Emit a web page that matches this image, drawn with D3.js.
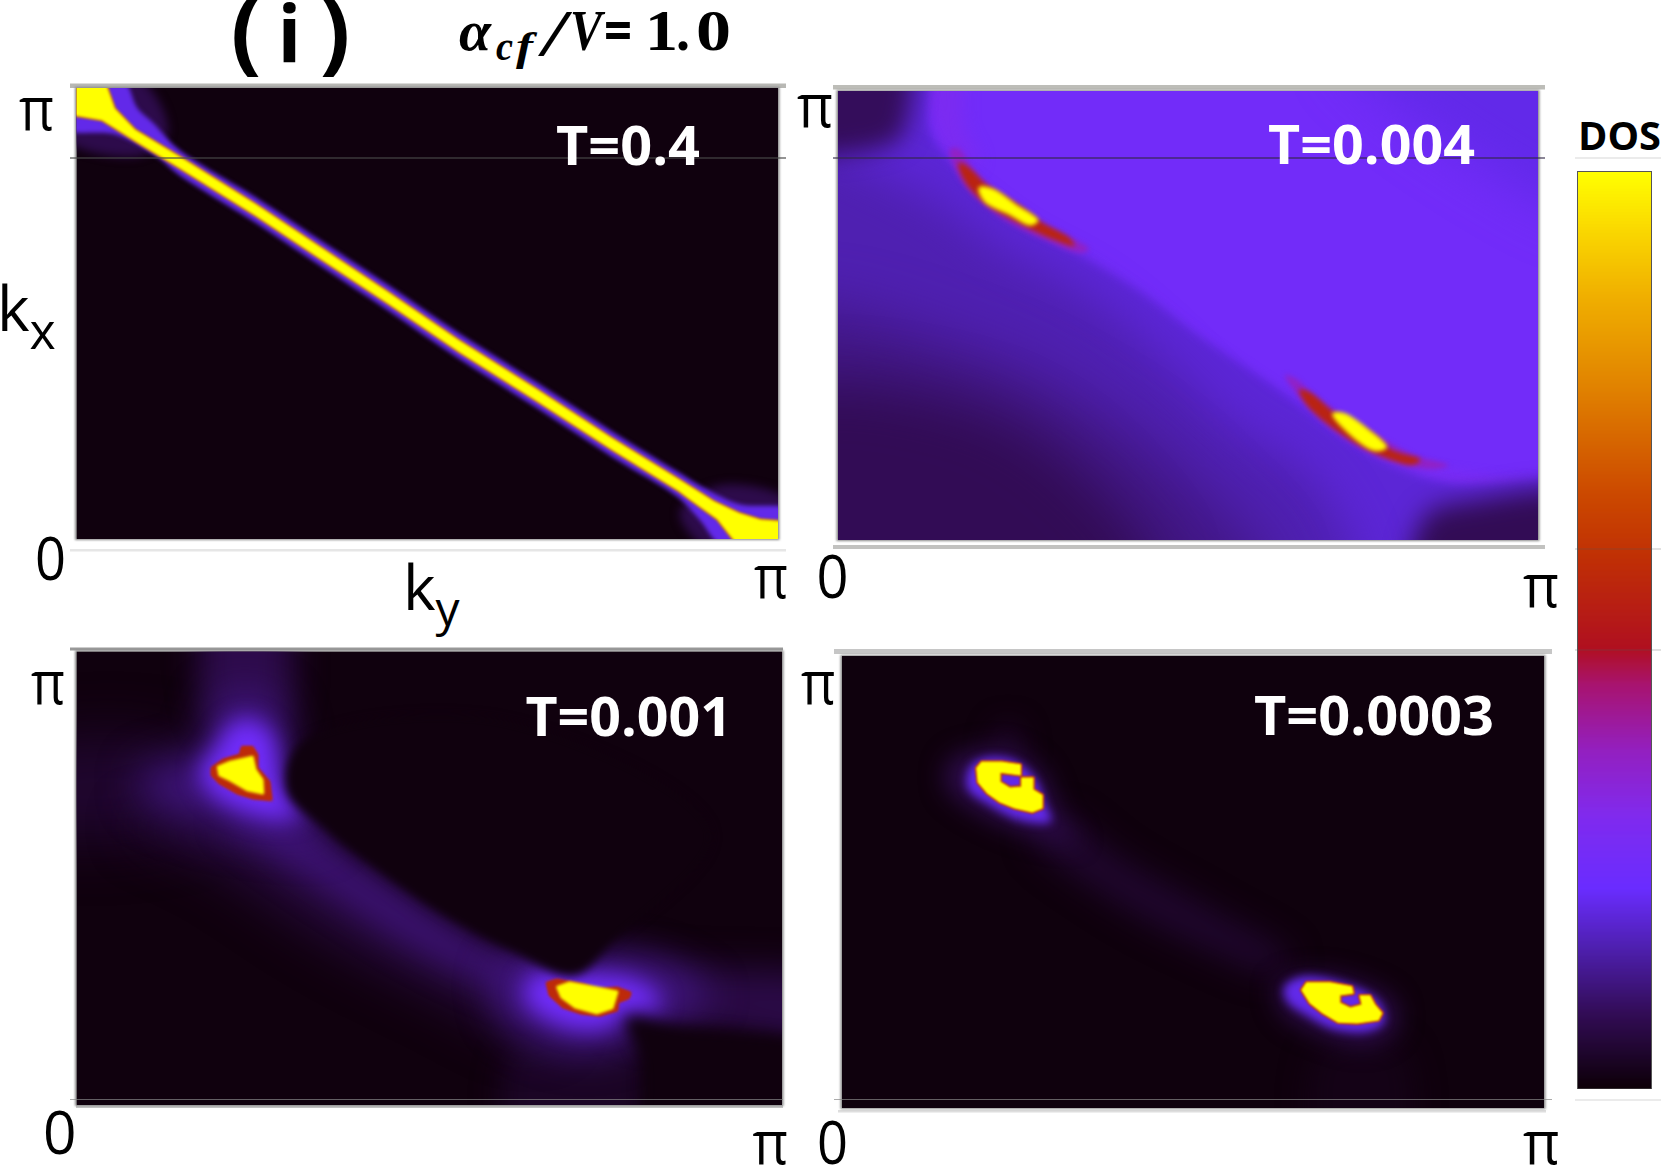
<!DOCTYPE html>
<html>
<head>
<meta charset="utf-8">
<style>
  html, body { margin: 0; padding: 0; background: #fff; }
  svg { display: block; }
</style>
<script src="https://cdn.jsdelivr.net/npm/d3@7"></script>
</head>
<body>
<div id="chart"></div>
<script>
// DOS colour map: value stops and the colours they take
const dosStops = [0, 0.08, 0.154, 0.218, 0.296, 0.368, 0.44, 0.48, 0.58, 0.65, 0.76, 0.866, 0.937, 1];
const dosColors = ["#0d0008", "#320c55", "#4f20b0", "#6a2dff", "#802bee", "#9320c0", "#a81470", "#b01020",
                   "#c03005", "#cc4a00", "#e08000", "#f0b000", "#fad800", "#ffff00"];

// Panel titles
const temperatures = ["T=0.4", "T=0.004", "T=0.001", "T=0.0003"];

// Iso-DOS outlines, as [ky/pi, kx/pi] pairs

// T = 0.4: the nearly straight Fermi ridge with its two corner pockets
const t04Ridge = [[-.02,1.02],[.04,1.02],[.055,.955],[.084,.908],[.145,.851],[.255,.744],[.342,.654],[.444,.549],[.545,.442],[.655,.334],[.764,.224],[.858,.134],[.909,.084],[.945,.058],[.975,.044],[1.02,.038],[1.02,-.02],[.945,-.02],[.913,.043],[.873,.088],[.858,.106],[.764,.196],[.655,.306],[.545,.414],[.444,.521],[.342,.626],[.255,.716],[.145,.823],[.087,.878],[.036,.928],[-.02,.943]];
const t04Halo = [[-.02,1.02],[.065,1.02],[.087,.955],[.109,.923],[.145,.865],[.255,.758],[.342,.668],[.444,.563],[.545,.456],[.655,.348],[.764,.238],[.858,.148],[.895,.113],[.945,.077],[1.02,.063],[1.02,-.02],[.924,-.02],[.887,.045],[.858,.092],[.764,.182],[.655,.292],[.545,.4],[.444,.507],[.342,.612],[.255,.702],[.145,.809],[.116,.846],[.058,.896],[-.02,.912]];
const t04GlowTop = [[-.02,1.02],[.09,1.02],[.13,.9],[.09,.85],[-.02,.89]];
const t04GlowBottom = [[.86,.06],[.92,.12],[1.02,.08],[1.02,-.02],[.9,-.02]];

// T = 0.004: violet plateau, darker interior and two hot arcs
const t004Inner = [[-.1,1.1],[.118,1.1],[.13,.916],[.158,.848],[.194,.789],[.27,.699],[.35,.631],[.431,.554],[.511,.46],[.583,.384],[.639,.324],[.719,.23],[.8,.162],[.88,.124],[1.1,.115],[1.1,-.1],[-.1,-.1]];
const t004Mid = [[-.1,.865],[.118,.772],[.238,.644],[.358,.541],[.463,.405],[.559,.26],[.679,.132],[.735,-.1],[-.1,-.1]];
const t004Low = [[-.1,.5],[.2,.42],[.38,.28],[.5,.14],[.62,-.1],[-.1,-.1]];
const t004Lowest = [[-.1,.32],[.2,.3],[.36,.14],[.46,-.1],[-.1,-.1]];
const t004CornerTop = [[-.1,1.1],[.095,1.1],[.098,.933],[.082,.887],[-.1,.88]];
const t004CornerBottom = [[.824,-.1],[1.1,-.1],[1.1,.095],[.9,.085],[.84,.055]];
const t004RimTop = [[.12,1.1],[.17,1.1],[.18,.92],[.2,.84],[.16,.84],[.135,.92]];
const t004RimBottom = [[.68,.27],[.8,.18],[.95,.14],[1,.13],[.9,.12],[.78,.16]];
const t004Shade = [[.72,1.1],[1.1,1.1],[1.1,.72],[.9,.85]];
const t004GlowA = [[.16,.87],[.172,.872],[.194,.823],[.238,.763],[.294,.703],[.358,.648],[.346,.639],[.294,.669],[.238,.712],[.19,.772],[.168,.823]];
const t004RedA = [[.172,.84],[.186,.831],[.214,.789],[.262,.742],[.29,.708],[.33,.673],[.338,.655],[.302,.673],[.262,.703],[.214,.746],[.182,.797]];
const t004HotA = [[.202,.784],[.222,.78],[.254,.746],[.285,.712],[.274,.702],[.246,.725],[.21,.754]];
const t004GlowB = [[.639,.367],[.655,.358],[.687,.311],[.743,.26],[.792,.213],[.824,.188],[.872,.166],[.848,.158],[.8,.171],[.751,.2],[.703,.251],[.663,.311]];
const t004RedB = [[.659,.335],[.675,.328],[.711,.281],[.759,.239],[.792,.2],[.832,.179],[.82,.168],[.783,.183],[.743,.213],[.695,.264],[.667,.307]];
const t004HotB = [[.707,.281],[.723,.281],[.759,.243],[.783,.207],[.767,.2],[.739,.226]];

// T = 0.001: two pockets joined by a faint crescent
const t001PlumeUp = [[.188,1.1],[.289,1.1],[.289,.838],[.195,.838]];
const t001PlumeLeft = [[-.1,.761],[.145,.784],[.181,.637],[-.1,.614]];
const t001PlumeRight = [[.76,.3],[.88,.3],[1.1,.26],[1.1,.14],[.88,.17],[.78,.18]];
const t001PlumeDown = [[.62,.13],[.8,.13],[.78,-.1],[.62,-.1]];
const t001WideBand = [[.2,.64],[.33,.6],[.5,.43],[.68,.27],[.66,.15],[.5,.25],[.35,.37],[.2,.52],[.08,.62]];
const t001Band = [[.282,.66],[.362,.575],[.441,.49],[.528,.398],[.615,.32],[.687,.282],[.658,.228],[.579,.267],[.47,.351],[.362,.459],[.253,.575],[.21,.629]];
const t001OuterA = [[.094,.737],[.181,.784],[.195,.892],[.282,.892],[.311,.722],[.355,.591],[.297,.591],[.181,.622],[.094,.68]];
const t001OuterB = [[.6,.31],[.72,.34],[.84,.31],[.9,.24],[.82,.17],[.76,.12],[.68,.12],[.6,.2]];
const t001HaloA = [[.174,.737],[.195,.784],[.217,.838],[.246,.853],[.279,.815],[.286,.745],[.293,.691],[.318,.637],[.282,.629],[.224,.653],[.188,.691]];
const t001HaloB = [[.637,.274],[.673,.297],[.724,.29],[.781,.282],[.825,.243],[.825,.212],[.774,.205],[.76,.174],[.709,.166],[.658,.197],[.637,.228]];
const t001GapA = [[.298,.695],[.355,.604],[.427,.519],[.514,.426],[.615,.341],[.705,.285],[.76,.36],[.9,.6],[.6,.85],[.32,.8]];
const t001GapB = [[.78,.19],[.85,.175],[1.1,.1],[1.1,-.1],[.82,-.1],[.8,.1]];
const t001RedA = [[.192,.743],[.208,.761],[.232,.772],[.235,.789],[.249,.789],[.256,.772],[.256,.743],[.273,.712],[.276,.673],[.25,.677],[.228,.688],[.203,.71],[.192,.728]];
const t001HotA = [[.201,.745],[.218,.756],[.249,.767],[.253,.739],[.263,.717],[.264,.688],[.242,.695],[.218,.717],[.203,.728]];
const t001RedB = [[.667,.269],[.681,.276],[.718,.265],[.738,.254],[.766,.258],[.785,.247],[.782,.236],[.767,.227],[.766,.209],[.742,.198],[.714,.203],[.69,.216],[.671,.243]];
const t001HotB = [[.682,.26],[.699,.269],[.738,.258],[.766,.249],[.759,.214],[.738,.203],[.707,.216],[.688,.238]];

// T = 0.0003: two C-shaped pockets
const t0003Plume = [[.223,.848],[.251,.848],[.258,.77],[.211,.77]];
const t0003Tail = [[.68,.13],[.8,.13],[.8,-.1],[.68,-.1]];
const t0003Band = [[.306,.646],[.401,.546],[.527,.437],[.638,.329],[.622,.298],[.496,.368],[.369,.476],[.274,.6]];
const t0003OuterA = [[.156,.77],[.227,.793],[.282,.747],[.314,.631],[.338,.592],[.267,.607],[.187,.661],[.148,.715]];
const t0003OuterB = [[.62,.27],[.67,.295],[.73,.28],[.785,.235],[.79,.18],[.75,.14],[.69,.16],[.63,.21]];
const t0003HaloA = [[.183,.755],[.203,.774],[.243,.77],[.274,.731],[.29,.67],[.298,.635],[.258,.635],[.211,.67],[.179,.708]];
const t0003HaloB = [[.63,.267],[.654,.29],[.717,.275],[.764,.236],[.772,.19],[.749,.17],[.701,.174],[.662,.205],[.634,.236]];
const t0003HotA = [[.192,.752],[.199,.765],[.229,.765],[.254,.759],[.254,.737],[.225,.743],[.225,.721],[.239,.708],[.256,.71],[.256,.73],[.272,.73],[.272,.704],[.285,.692],[.285,.664],[.271,.655],[.246,.664],[.225,.677],[.207,.697],[.194,.721]];
const t0003HotB = [[.655,.261],[.662,.277],[.695,.277],[.726,.268],[.728,.254],[.709,.25],[.709,.232],[.724,.221],[.741,.228],[.738,.248],[.752,.248],[.759,.228],[.769,.21],[.764,.195],[.734,.188],[.707,.19],[.685,.21],[.667,.232]];

// ---------------------------------------------------------------------------

const W = 1661, H = 1169;
const svg = d3.select("#chart").append("svg").attr("width", W).attr("height", H)
  .attr("viewBox", `0 0 ${W} ${H}`);
const defs = svg.append("defs");

const dos = d3.scaleLinear().domain(dosStops).range(dosColors).interpolate(d3.interpolateRgb).clamp(true);

function blurId(s) {
  const id = "soft" + String(s).replace(".", "_");
  if (defs.select("#" + id).empty()) {
    defs.append("filter").attr("id", id).attr("filterUnits", "userSpaceOnUse")
      .attr("x", 0).attr("y", 0).attr("width", W).attr("height", H)
      .attr("color-interpolation-filters", "sRGB")
      .append("feGaussianBlur").attr("stdDeviation", s);
  }
  return `url(#${id})`;
}

// Each layer: outline, DOS level, softness in px, red fringe in px, outward growth in px
const panels = [
  { name: temperatures[0], box: [76.5, 778, 88, 539], base: 0.006, label: [556, 700, 164.5], layers: [
    [t04GlowTop, 0.07, 5], [t04GlowBottom, 0.07, 5], [t04Halo, 0.2, 2], [t04Ridge, 1, 1.6, 0.3]] },
  { name: temperatures[1], box: [838, 1538, 91, 540], base: 0.245, label: [1268, 1475, 164], layers: [
    [t004Shade, 0.2, 25], [t004RimTop, 0.28, 8], [t004RimBottom, 0.27, 5],
    [t004Inner, 0.185, 5], [t004Mid, 0.155, 22], [t004Low, 0.12, 28], [t004Lowest, 0.08, 28],
    [t004CornerTop, 0.085, 12], [t004CornerBottom, 0.08, 13],
    [t004GlowA, 0.36, 2.5], [t004GlowB, 0.36, 2.5], [t004RedA, 0.54, 2.4], [t004RedB, 0.54, 2.4],
    [t004HotA, 1, 2, 0, 0.8], [t004HotB, 1, 2, 0, 0.8]] },
  { name: temperatures[2], box: [76.5, 782, 651.5, 1105], base: 0.006, label: [525.5, 732, 735.5], layers: [
    [t001PlumeDown, 0.03, 14], [t001PlumeLeft, 0.04, 28], [t001PlumeUp, 0.07, 16], [t001PlumeRight, 0.065, 18],
    [t001WideBand, 0.05, 24], [t001Band, 0.1, 15], [t001OuterA, 0.11, 20], [t001OuterB, 0.11, 18],
    [t001HaloA, 0.24, 11], [t001HaloB, 0.24, 11], [t001GapA, 0.006, 5], [t001GapB, 0.006, 7],
    [t001RedA, 0.56, 1.8, 1.2], [t001RedB, 0.56, 1.8, 1.2], [t001HotA, 1, 1.6, 0, 1.5], [t001HotB, 1, 1.6, 0, 1.5]] },
  { name: temperatures[3], box: [842, 1544, 656, 1108], base: 0.005, label: [1254, 1494, 735], layers: [
    [t0003Tail, 0.015, 14], [t0003Plume, 0.025, 12], [t0003Band, 0.04, 16],
    [t0003OuterA, 0.07, 12], [t0003OuterB, 0.07, 12], [t0003HaloA, 0.2, 5], [t0003HaloB, 0.2, 5],
    [t0003HotA, 1, 1.3, 1.4, 0.6], [t0003HotB, 1, 1.3, 1.4, 0.6]] }
];

// Soft grey frame strips from the figure assembly
const strips = [
  [70, 786, 83.5, 4.5, "#b8b8b4"], [70, 786, 549, 2.5, "#e6e6e6"],
  [833, 1545, 85, 4.5, "#bdbdb8"], [833, 1545, 545, 4, "#c2c2c0"],
  [70, 783, 647.5, 3, "#999999"], [76, 783, 1105, 3, "#c8c8c8"],
  [834, 1552, 649, 5, "#c6c6c6"], [838, 1546, 1110, 2.5, "#dedede"]
];
svg.append("g").selectAll("rect").data(strips).join("rect")
  .attr("x", d => d[0]).attr("width", d => d[1] - d[0])
  .attr("y", d => d[2]).attr("height", d => d[3]).attr("fill", d => d[4])
  .attr("filter", blurId(0.6));

panels.forEach((p, i) => {
  const [x0, x1, y0, y1] = p.box;
  const x = d3.scaleLinear().domain([0, 1]).range([x0, x1]);
  const y = d3.scaleLinear().domain([0, 1]).range([y1, y0]);

  svg.append("rect").attr("x", x0 - 1.5).attr("y", y0 - 1).attr("width", x1 - x0 + 3).attr("height", y1 - y0 + 2)
    .attr("fill", "#888").attr("filter", blurId(1.2));

  const clipId = "panel" + i;
  defs.append("clipPath").attr("id", clipId).append("rect")
    .attr("x", x0).attr("y", y0).attr("width", x1 - x0).attr("height", y1 - y0);

  const g = svg.append("g").attr("clip-path", `url(#${clipId})`);
  g.append("rect").attr("x", x0).attr("y", y0).attr("width", x1 - x0).attr("height", y1 - y0)
    .attr("fill", dos(p.base));

  const straight = d3.line().x(d => x(d[0])).y(d => y(d[1])).curve(d3.curveLinearClosed);
  const curved = d3.line().x(d => x(d[0])).y(d => y(d[1])).curve(d3.curveCatmullRomClosed.alpha(0.5));

  p.layers.forEach(([outline, level, soft, fringe, grow]) => {
    const shape = soft >= 2 ? curved : straight;
    if (fringe) {
      g.append("path").attr("d", shape(outline)).attr("fill", dos(0.56))
        .attr("stroke", dos(0.56)).attr("stroke-width", (fringe + (grow || 0)) * 2).attr("stroke-linejoin", "round")
        .attr("filter", blurId(soft));
    }
    const mark = g.append("path").attr("d", shape(outline)).attr("fill", dos(level)).attr("filter", blurId(soft));
    if (grow) mark.attr("stroke", dos(level)).attr("stroke-width", grow * 2).attr("stroke-linejoin", "round");
  });
});

// Rules that run across the panels and out to the colour bar
const rules = [
  [70, 786, 158, "rgba(72,72,72,0.78)", 1.5], [833, 1545, 158, "rgba(50,40,70,0.75)", 1.5],
  [70, 783, 1099.5, "rgba(135,135,135,0.7)", 1], [834, 1552, 1099.5, "rgba(135,135,135,0.7)", 1],
  [1575, 1661, 158, "rgba(120,120,120,0.3)", 1], [1575, 1661, 549, "rgba(90,90,90,0.35)", 1],
  [1575, 1661, 650, "rgba(90,90,90,0.35)", 1], [1575, 1661, 1100, "rgba(120,120,120,0.3)", 1]
];

// Colour bar, one row per DOS step
const barY = d3.scaleLinear().domain([0, 1]).range([1088, 172]);
const barX = [1578, 1651];
const barRows = d3.range(0, 1, 1 / 916);
const bar = svg.append("g");
bar.append("rect").attr("x", barX[0] - 1).attr("y", barY(1) - 1).attr("width", barX[1] - barX[0] + 2)
  .attr("height", barY(0) - barY(1) + 2).attr("fill", "#555").attr("filter", blurId(0.6));
bar.selectAll(".row").data(barRows).join("rect").attr("class", "row")
  .attr("x", barX[0]).attr("width", barX[1] - barX[0])
  .attr("y", d => barY(d) - 1).attr("height", 1.5).attr("fill", d => dos(d));

svg.append("g").selectAll("line").data(rules).join("line")
  .attr("x1", d => d[0]).attr("x2", d => d[1]).attr("y1", d => d[2]).attr("y2", d => d[2])
  .attr("stroke", d => d[3]).attr("stroke-width", d => d[4]);

// Text, fitted to its horizontal extent
const sans = "'Open Sans', sans-serif";
const serif = "'Liberation Serif', serif";
function put(str, x0, x1, base, size, opts = {}) {
  return svg.append("text").text(str).attr("x", x0).attr("y", base)
    .attr("textLength", x1 - x0).attr("lengthAdjust", "spacingAndGlyphs")
    .attr("font-family", opts.family || sans).attr("font-size", size)
    .attr("font-weight", opts.weight || "normal").attr("font-style", opts.style || "normal")
    .attr("fill", opts.fill || "#000");
}
function centred(str, cx, base, size, weight) {
  return svg.append("text").text(str).attr("x", cx).attr("y", base).attr("text-anchor", "middle")
    .attr("font-family", sans).attr("font-size", size).attr("font-weight", weight).attr("fill", "#000");
}
function subscripted(main, sub, x0, base, size, subSize, dy) {
  const t = svg.append("text").attr("x", x0).attr("y", base)
    .attr("font-family", sans).attr("font-size", size).attr("fill", "#000");
  t.append("tspan").text(main);
  t.append("tspan").text(sub).attr("font-size", subSize).attr("dy", dy);
}

panels.forEach(p => {
  const [a, b, base] = p.label;
  put(p.name, a, b, base, 53, { weight: "bold", fill: "#fff" });
});

// Axis end labels
const piLabels = [[19, 54, 130], [754, 788, 598], [797, 833, 127], [1523, 1559, 607],
                  [31, 65, 704], [752.5, 788, 1164], [801, 835.5, 704], [1523, 1559.5, 1164]];
const zeroLabels = [[35, 66, 580], [816.5, 848.5, 598], [43, 76.5, 1154], [817, 848, 1164]];
piLabels.forEach(([a, b, c]) => put("π", a, b, c, 60));
zeroLabels.forEach(([a, b, c]) => put("0", a, b, c, 60));

subscripted("k", "x", -3, 331, 62, 50, 18);
subscripted("k", "y", 403, 610, 62, 48, 16);
put("DOS", 1578, 1661, 150, 40, { weight: "bold" });

// Panel heading
centred("(", 246, 63, 90, "bold");
centred("i", 289.5, 62, 78, "bold");
centred(")", 335, 63, 90, "bold");

const headBold = { family: serif, weight: "bold" };
const headItalic = { family: serif, weight: "bold", style: "italic" };
put("α", 459, 491, 50, 56, headItalic);
put("c", 496, 513, 60, 40, headItalic);
put("f", 516, 533, 60, 40, headItalic);
put("/", 543, 566, 55, 66, headItalic);
put("V", 570, 602, 50, 56, headItalic);
put("=", 604, 632, 50, 56, { family: sans, weight: "bold" });
put("1", 645, 678, 50, 56, headBold);
put(".", 676, 690, 50, 56, headBold);
put("0", 696, 731, 50, 56, headBold);
</script>
</body>
</html>
